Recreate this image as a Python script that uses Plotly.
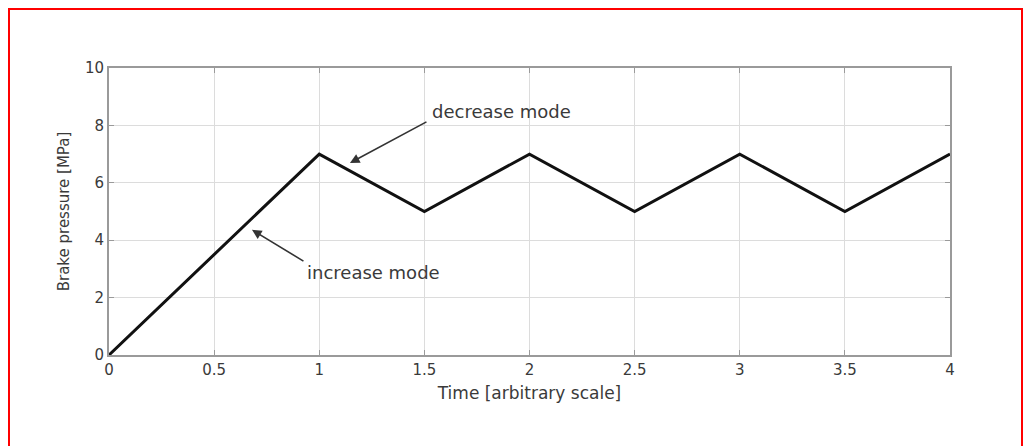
import plotly.graph_objects as go

# Data
time = [0, 1, 1.5, 2, 2.5, 3, 3.5, 4]
pressure = [0, 7, 5, 7, 5, 7, 5, 7]
x_ticks = [0, 0.5, 1, 1.5, 2, 2.5, 3, 3.5, 4]
x_tick_labels = ["0", "0.5", "1", "1.5", "2", "2.5", "3", "3.5", "4"]
y_ticks = [0, 2, 4, 6, 8, 10]
y_tick_labels = ["0", "2", "4", "6", "8", "10"]

FONT = "DejaVu Sans"
TXT = "#3a3a3a"
AX = "#9a9a9a"

fig = go.Figure()
fig.add_trace(go.Scatter(x=time, y=pressure, mode="lines",
                         line=dict(color="#111111", width=3), showlegend=False,
                         hoverinfo="skip"))

axis_common = dict(showgrid=True, gridcolor="#dcdcdc", gridwidth=1,
                   showline=True, linecolor=AX, linewidth=2, mirror="allticks",
                   ticks="inside", ticklen=5, tickcolor=AX, tickwidth=1,
                   zeroline=False, tickfont=dict(family=FONT, size=15, color=TXT))

fig.update_xaxes(range=[0, 4], tickvals=x_ticks, ticktext=x_tick_labels,
                 title=dict(text="Time [arbitrary scale]", font=dict(family=FONT, size=17, color=TXT), standoff=9),
                 **axis_common)
fig.update_yaxes(range=[0, 10], tickvals=y_ticks, ticktext=y_tick_labels,
                 title=dict(text="Brake pressure [MPa]", font=dict(family=FONT, size=15, color=TXT), standoff=12),
                 **axis_common)

# Arrows
fig.add_annotation(x=1.146, y=6.69, ax=1.517, ay=8.15, axref="x", ayref="y",
                   xref="x", yref="y", text="", showarrow=True,
                   arrowhead=2, arrowsize=1.2, arrowwidth=1.6, arrowcolor="#333333")
fig.add_annotation(x=0.68, y=4.36, ax=0.932, ay=3.24, axref="x", ayref="y",
                   xref="x", yref="y", text="", showarrow=True,
                   arrowhead=2, arrowsize=1.2, arrowwidth=1.6, arrowcolor="#333333")
# Labels
fig.add_annotation(x=1.527, y=8.5, xref="x", yref="y", text="decrease mode",
                   showarrow=False, xanchor="left", yanchor="middle",
                   font=dict(family=FONT, size=18, color=TXT))
fig.add_annotation(x=0.932, y=2.89, xref="x", yref="y", text="increase mode",
                   showarrow=False, xanchor="left", yanchor="middle",
                   font=dict(family=FONT, size=18, color=TXT))

# Red frame
L, R, T, B = 109, 73, 68, 91
W, H = 1023, 446
pw, ph = W - L - R, H - T - B
base = H - B
fig.add_shape(type="rect", xref="paper", yref="paper",
              x0=(9 - L) / pw, x1=(1022 - L) / pw,
              y0=(base - 470) / ph, y1=(base - 9) / ph,
              line=dict(color="red", width=2), fillcolor="rgba(0,0,0,0)", layer="above")

fig.update_layout(width=W, height=H, margin=dict(l=L, r=R, t=T, b=B),
                  plot_bgcolor="white", paper_bgcolor="white", showlegend=False)

fig.write_html("out.html")
